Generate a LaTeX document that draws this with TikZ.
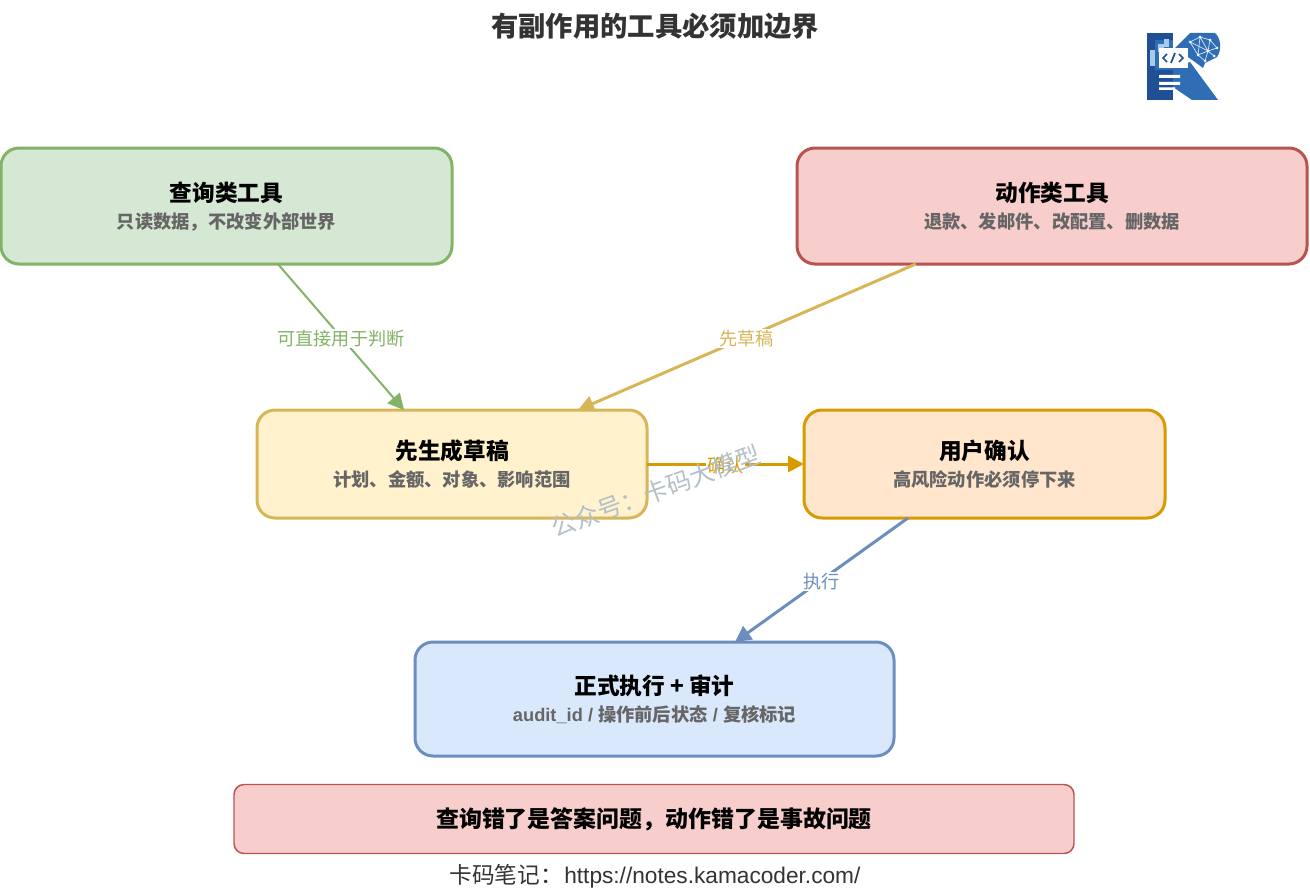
\documentclass[tikz,border=0pt]{standalone}
\usepackage{fontspec}
\setmainfont{Liberation Sans}
\newfontfamily\cjk{Noto Sans CJK SC}
\usetikzlibrary{arrows.meta,calc}
\definecolor{gF}{HTML}{D5E8D4}\definecolor{gD}{HTML}{82B366}
\definecolor{rF}{HTML}{F8CECC}\definecolor{rD}{HTML}{B85450}
\definecolor{yF}{HTML}{FFF2CC}\definecolor{yD}{HTML}{D6B656}
\definecolor{oF}{HTML}{FFE6CC}\definecolor{oD}{HTML}{D79B00}
\definecolor{bF}{HTML}{DAE8FC}\definecolor{bD}{HTML}{6C8EBF}
\definecolor{wm}{HTML}{B4C0C8}
\definecolor{logoD}{HTML}{1F5096}\definecolor{logoM}{HTML}{2F6DB5}\definecolor{logoL}{HTML}{A9CBEA}
\tikzset{
  x=0.75pt,y=-0.75pt,
  box/.style={draw,rounded corners=13.5pt,line width=2.25pt,inner sep=0pt,outer sep=0pt,anchor=center},
  cardtitle/.style={inner sep=0pt,text=black,font=\cjk\bfseries\fontsize{17}{20}\selectfont},
  cardsub/.style={inner sep=0pt,text=black!60,font=\cjk\bfseries\fontsize{13.7}{16}\selectfont},
  link/.style={line width=2.25pt,-{Triangle[length=12pt,width=12pt]}},
  linklabel/.style={fill=white,inner sep=1pt,yshift=-1pt,font=\cjk\fontsize{13.6}{16}\selectfont},
}
\newcommand\card[8]{%
  \pgfmathsetlengthmacro\cardw{(#4-#2)*0.75}%
  \pgfmathsetlengthmacro\cardh{(#5-#3)*0.75}%
  \node[box,#6,minimum width=\cardw,minimum height=\cardh] (#1) at ({(#2+#4)/2},{(#3+#5)/2}) {};
  \node[cardtitle] (#1t) at ($(#1.center)+(0,-13.5)$) {#7};
  \node[cardsub] (#1s) at ($(#1.center)+(0,15.5)$) {#8};
}
\begin{document}
\begin{tikzpicture}
\useasboundingbox (0,0) rectangle (1310,892);
\node[inner sep=0pt,text=black!80,font=\cjk\bfseries\fontsize{20.5}{24}\selectfont] (title) at (655,26) {有副作用的工具必须加边界};

% logo
\fill[logoD] (1147,33) rectangle (1173,100);
\fill[logoM] (1155,40) rectangle (1173,70);
\fill[logoL] (1150,50) rectangle (1155,66);
\fill[logoL] (1158,44) rectangle (1164,52);
\fill[logoL] (1164,39) rectangle (1169,47);
\fill[logoM] (1173,68) -- (1190,62) -- (1218,100) -- (1192,100) -- (1173,87) -- cycle;
\fill[logoM] (1175,48) -- (1190,33) -- (1215,33) .. controls (1221,38) and (1222,50) .. (1217,57) -- (1205,63) -- (1203,68) -- (1195,62) -- cycle;
\draw[white!60!logoL,line width=.5pt] (1190,42) -- (1200,37) -- (1210,40) -- (1217,48) -- (1208,51) -- (1198,55) -- (1190,42) -- (1208,51) -- (1200,37) (1210,40) -- (1208,51) -- (1214,56) (1198,55) -- (1205,61) -- (1208,51) (1200,37) -- (1198,55);
\foreach \a/\b in {1190/42,1200/37,1210/40,1217/48,1208/51,1198/55,1205/61,1214/56}{\fill[white!80!logoL] (\a,\b) circle (1.5);}
\fill[white] (1159,48) rectangle (1188,68);
\draw[logoD,line width=1.3pt] (1167,54) -- (1163,58) -- (1167,62) (1171,63) -- (1175,53) (1179,54) -- (1183,58) -- (1179,62);
\fill[white] (1159,75) rectangle (1180,78) (1159,82) rectangle (1180,85) (1159,87.5) rectangle (1175,90);

\card{query}{1}{148}{452}{264}{fill=gF,draw=gD}{查询类工具}{只读数据，不改变外部世界}
\card{action}{797}{148}{1307}{264}{fill=rF,draw=rD}{动作类工具}{退款、发邮件、改配置、删数据}
\card{draft}{257}{410}{647}{518}{fill=yF,draw=yD}{先生成草稿}{计划、金额、对象、影响范围}
\card{confirm}{804}{410}{1165}{518}{fill=oF,draw=oD}{用户确认}{高风险动作必须停下来}
\card{exec}{415}{642}{894}{756}{fill=bF,draw=bD}{正式执行 + 审计}{{\rmfamily audit\_id / }操作前后状态{\rmfamily\ / }复核标记}

\node[draw=rD,fill=rF,rounded corners=7.5pt,line width=1.1pt,inner sep=0pt,outer sep=0pt,minimum width=630pt,minimum height=51.75pt,
  text=black,font=\cjk\bfseries\fontsize{17.2}{20}\selectfont] (note) at (654,819) {查询错了是答案问题，动作错了是事故问题};
\node[inner sep=0pt,text=black!80,font=\fontsize{17}{20}\selectfont] (foot) at (655,876) {{\cjk 卡码笔记：}\hspace{1pt}https://notes.kamacoder.com/};

\draw[link,draw=gD,line width=1.5pt] ($(query.south west)!0.614!(query.south east)$) -- node[linklabel,text=gD,pos=.5] {可直接用于判断} ($(draft.north west)!0.377!(draft.north east)$);
\draw[link,draw=yD] ($(action.south west)!0.233!(action.south east)$) -- node[linklabel,text=yD,pos=.5] {先草稿} ($(draft.north west)!0.823!(draft.north east)$);
\draw[link,draw=oD] (draft.east) -- node[linklabel,text=oD,pos=.5] {确认} (confirm.west);
\draw[link,draw=bD] ($(confirm.south west)!0.288!(confirm.south east)$) -- node[linklabel,text=bD,pos=.5] {执行} ($(exec.north west)!0.668!(exec.north east)$);

\node[rotate=20,inner sep=0pt,text=wm,font=\cjk\fontsize{18.4}{22}\selectfont] (mark) at (656,491) {公众号：卡码大模型};
\end{tikzpicture}
\end{document}
